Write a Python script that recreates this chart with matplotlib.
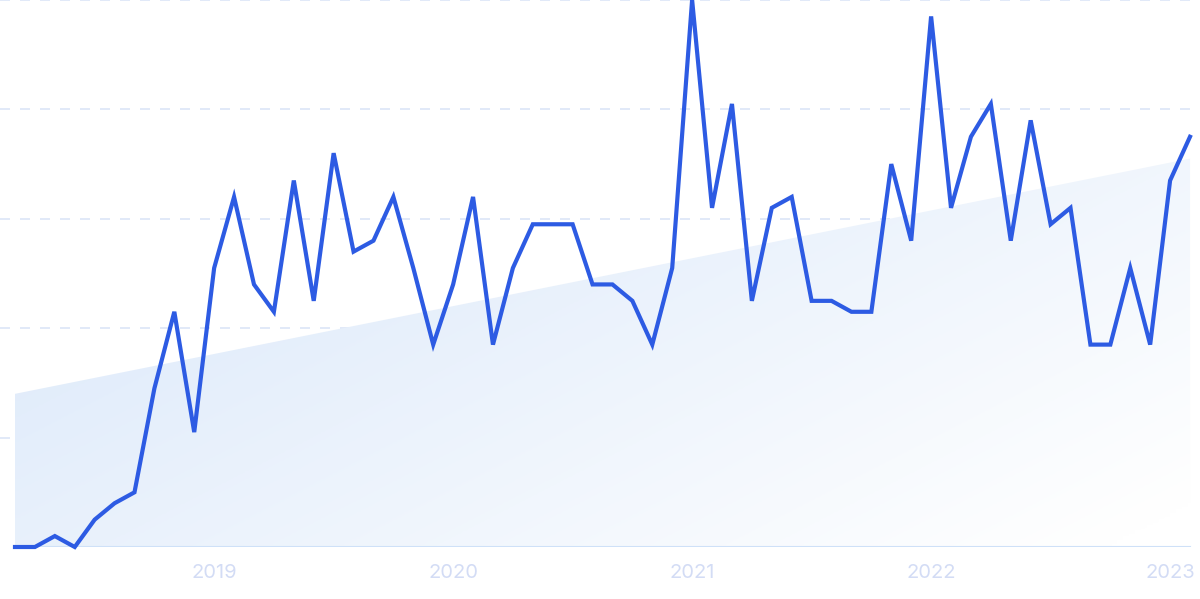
import numpy as np
import matplotlib.pyplot as plt
from matplotlib.patches import Polygon

# monthly values, Mar 2018 - Feb 2023
values = [0, 0, 2, 0, 5, 8, 10, 29, 43, 21,
          51, 64, 48, 43, 67, 45, 72, 54, 56, 64, 51, 37,
          48, 64, 37, 51, 59, 59, 59, 48, 48, 45, 37, 51,
          100, 62, 81, 45, 62, 64, 45, 45, 43, 43, 70, 56,
          97, 62, 75, 81, 56, 78, 59, 62, 37, 37, 51, 37,
          67, 75]
years = ["2019", "2020", "2021", "2022", "2023"]
year_pos = [10, 22, 34, 46, 58]
trend = [28, 71]  # trend line start / end value

x = np.arange(len(values))

fig = plt.figure(figsize=(12, 5.99), dpi=100)
ax = fig.add_axes([0, 52 / 599, 1, 547 / 599])
ax.set_xlim(-0.753, 59.502)
ax.set_ylim(0, 100)

# gradient trend area, pale to white toward bottom right
poly = Polygon([[x[0], 0], [x[0], trend[0]], [x[-1], trend[1]], [x[-1], 0]],
               closed=True, facecolor='none', edgecolor='none')
ax.add_patch(poly)
gx, gy = np.meshgrid(np.linspace(0, 1, 200), np.linspace(0, 1, 200))
t = np.clip(0.7 * gx + 0.45 * gy - 0.1, 0, 1)
c0 = np.array([220, 233, 250]) / 255
c1 = np.array([255, 255, 255]) / 255
img = c0[None, None, :] * (1 - t[..., None]) + c1[None, None, :] * t[..., None]
im = ax.imshow(img, extent=[x[0], x[-1], 0, trend[1]], origin='upper',
               aspect='auto', zorder=1)
im.set_clip_path(poly)

for g in [20, 40, 60, 80, 100]:
    ax.axhline(g, color='#dce5f7', lw=1.2, dashes=(6, 6), zorder=0.5,
               clip_on=False)
ax.plot([x[0], x[-1]], [0, 0], color='#cfe1f8', lw=1.5, zorder=2)

ax.plot(x, values, color='#2d5be3', lw=3.0, zorder=3, clip_on=False,
        solid_joinstyle='miter')

for p, lab in zip(year_pos, years):
    ax.text(p, -4.8, lab, ha='center', va='center', fontsize=14.5,
            color='#d3dcf5', family='Inter')

ax.axis('off')
fig.savefig('out.png', dpi=100)
